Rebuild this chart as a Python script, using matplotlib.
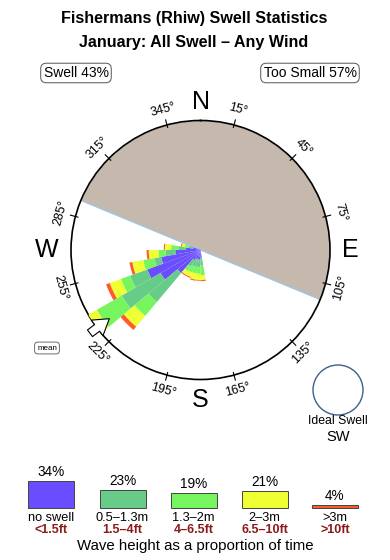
import numpy as np
import matplotlib
matplotlib.use("Agg")
import matplotlib.pyplot as plt
from matplotlib.patches import Rectangle, Circle

plt.rcParams['font.family'] = ['Liberation Sans', 'DejaVu Sans']

# ---------------- data ----------------
title1 = "Fishermans (Rhiw) Swell Statistics"
title2 = "January: All Swell \u2013 Any Wind"
swell_pct = 43
too_small_pct = 57

directions = [175, 185, 195, 205, 215, 225, 235, 245, 255, 265, 275, 285]
# percentage of time per direction bin for each wave-height class
no_swell   = [1.1, 1.4, 1.4, 1.4, 1.7, 4.3, 6.6, 8.1, 5.7, 3.6, 2.1, 1.1]
h_05_13    = [1.1, 1.1, 1.1, 1.1, 1.1, 5.4, 6.4, 2.6, 1.0, 1.4, 1.0, 0.6]
h_13_2     = [1.4, 0.9, 0.9, 0.9, 0.7, 2.6, 4.1, 1.4, 1.6, 1.0, 1.1, 0.6]
h_2_3      = [0.7, 0.9, 0.9, 0.7, 0.6, 2.0, 2.0, 1.7, 1.6, 1.4, 0.9, 0.4]
h_gt3      = [0.15, 0.1, 0.15, 0.15, 0.15, 0.6, 0.45, 0.55, 0.4, 0.3, 0.15, 0.15]

land_from, land_to = 292.5, 112.5   # land sector (clockwise via north)
mean_dir = 233
ideal_dir = "SW"

legend_pct = [34, 23, 19, 21, 4]
legend_top = ["no swell", "0.5\u20131.3m", "1.3\u20132m", "2\u20133m", ">3m"]
legend_bot = ["<1.5ft", "1.5\u20134ft", "4\u20136.5ft", "6.5\u201310ft", ">10ft"]
tick_degs = [15, 45, 75, 105, 135, 165, 195, 225, 255, 285, 315, 345]

colors = ["#6a4dff", "#66cc88", "#77f55f", "#eeff33", "#ff5a28"]
land_color = "#c4b9ac"
RMAX = 18.5

# ---------------- figure ----------------
W, H = 390, 560
fig = plt.figure(figsize=(W / 100, H / 100), dpi=100)
bg = fig.add_axes([0, 0, 1, 1])
bg.set_xlim(0, W)
bg.set_ylim(H, 0)
bg.axis('off')

bg.text(194, 18, title1, ha='center', va='center', fontsize=11.6, fontweight='bold')
bg.text(194, 42, title2, ha='center', va='center', fontsize=11.6, fontweight='bold')
boxst = dict(boxstyle='round,pad=0.2,rounding_size=0.4', fc='white', ec='#555555', lw=0.7)
bg.text(76, 73, f"Swell {swell_pct}%", ha='center', va='center', fontsize=10, bbox=boxst)
bg.text(310, 73, f"Too Small {too_small_pct}%", ha='center', va='center', fontsize=10, bbox=boxst)
bg.text(47, 348, "mean", ha='center', va='center', fontsize=5.8,
        bbox=dict(boxstyle='round,pad=0.3,rounding_size=0.4', fc='white', ec='#555555', lw=0.6))

# ideal swell
bg.add_patch(Circle((338, 390), 25, fc='none', ec='#3d5f8a', lw=1.0))
bg.text(338, 421, "Ideal Swell", ha='center', va='center', fontsize=8.8)
bg.text(338, 437, ideal_dir, ha='center', va='center', fontsize=10.5)

# legend
cx = [51, 122.5, 193.5, 264.5, 335]
base = 508
scale = 0.8
for i, p in enumerate(legend_pct):
    h = p * scale
    bg.add_patch(Rectangle((cx[i] - 23, base - h), 46, h, fc=colors[i], ec='#444444', lw=0.7))
    bg.text(cx[i], base - h - 9, f"{p}%", ha='center', va='center', fontsize=9.8)
    bg.text(cx[i], 518, legend_top[i], ha='center', va='center', fontsize=9.2)
    bg.text(cx[i], 530, legend_bot[i], ha='center', va='center', fontsize=9,
            color='#8b1a1a', fontweight='bold')
bg.text(195, 546, "Wave height as a proportion of time", ha='center', va='center', fontsize=10.8)

# ---------------- rose ----------------
cxp, cyp, R = 200.5, 250, 129.5
ax = fig.add_axes([(cxp - R) / W, 1 - (cyp + R) / H, 2 * R / W, 2 * R / H], projection='polar')
ax.set_theta_zero_location('N')
ax.set_theta_direction(-1)
ax.set_ylim(0, RMAX)
ax.set_xticks([])
ax.set_yticks([])
ax.grid(False)
ax.set_facecolor('none')
ax.spines['polar'].set_linewidth(1.2)
ax.spines['polar'].set_color('black')

th = np.radians(np.linspace(land_from, land_to + 360, 300))
ax.fill_between(th, 0, RMAX, color=land_color, lw=0, zorder=1)
for a in (land_from, land_to):
    ax.plot([np.radians(a)] * 2, [0, RMAX], color='#9cc8e8', lw=0.9, zorder=1.5)

theta = np.radians(directions)
width = np.radians(10)
bottom = np.zeros(len(directions))
for vals, c in zip([no_swell, h_05_13, h_13_2, h_2_3, h_gt3], colors):
    v = np.array(vals)
    ax.bar(theta, v, width=width, bottom=bottom, color=c, lw=0, zorder=3)
    bottom += v

# mean arrow
ax.annotate("", xy=(np.radians(mean_dir), RMAX * 0.86), xytext=(np.radians(mean_dir), RMAX * 1.09),
            arrowprops=dict(arrowstyle="simple,head_length=1.1,head_width=1.4,tail_width=0.6",
                            fc='white', ec='black', lw=0.8), zorder=5, annotation_clip=False)

# ticks and labels
for d in tick_degs:
    t = np.radians(d)
    ax.plot([t, t], [RMAX * 0.98, RMAX * 1.04], color='black', lw=0.8, clip_on=False, zorder=4)
    rot = -d if (d < 90 or d > 270) else 180 - d
    ax.text(t, RMAX * 1.12, f"{d}\u00b0", ha='center', va='center', rotation=rot,
            rotation_mode='anchor', fontsize=9, clip_on=False)
for lab, d, r in [("N", 0, 1.14), ("E", 90, 1.16), ("S", 180, 1.16), ("W", 270, 1.19)]:
    ax.text(np.radians(d), RMAX * r, lab, ha='center', va='center', fontsize=18, clip_on=False)

fig.savefig("out.png", dpi=100)
